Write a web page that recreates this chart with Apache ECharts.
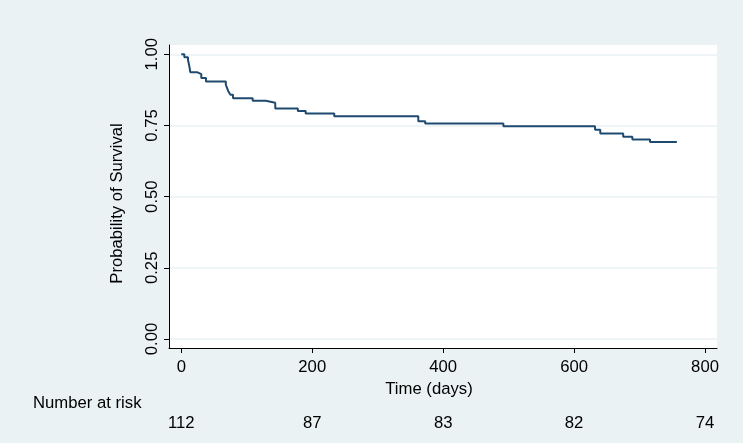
<!DOCTYPE html>
<html>
<head>
<meta charset="utf-8">
<script src="https://cdn.jsdelivr.net/npm/echarts@6/dist/echarts.min.js"></script>
<style>
html,body{margin:0;padding:0;background:#fff;}
#c{width:747px;height:446px;}
</style>
</head>
<body>
<div id="c"></div>
<script>
// Kaplan-Meier estimate (time in days, survival probability)
var times = [0, 4.6, 10.2, 12.5, 13.7, 24, 30.5, 37.7, 68, 70, 72, 75, 79, 109, 129, 143.5, 178, 190, 233.6, 362, 372.5, 492, 632, 640, 675, 689, 716, 757];
var surv  = [1, 0.990, 0.981, 0.955, 0.937, 0.930, 0.917, 0.904, 0.893, 0.881, 0.869, 0.858, 0.846, 0.837, 0.830, 0.810, 0.801, 0.792, 0.782, 0.765, 0.757, 0.747, 0.735, 0.722, 0.710, 0.701, 0.692, 0.692];
var xTicks = [0, 200, 400, 600, 800];
var yTicks = [0, 0.25, 0.5, 0.75, 1];
var atRiskTimes = [0, 200, 400, 600, 800];
var atRisk = [112, 87, 83, 82, 74];

var FONT = "'Liberation Sans', Arial, Helvetica, sans-serif";
var FS = 16.7;
var data = times.map(function (t, i) { return [t, surv[i]]; });

var chart = echarts.init(document.getElementById('c'));
chart.setOption({
  backgroundColor: '#ffffff',
  animation: false,
  textStyle: { fontFamily: FONT },
  graphic: [
    { type: 'rect', z: -100, silent: true, shape: { x: 0, y: 0, width: 743, height: 443 }, style: { fill: '#eaf2f3' } },
    { type: 'text', left: 33, top: 395, style: { text: 'Number at risk', font: FS + 'px ' + FONT, fill: '#000' } }
  ],
  grid: { left: 169, top: 45, width: 548, height: 303, show: true, backgroundColor: '#ffffff', borderWidth: 0 },
  xAxis: [{
    type: 'value', min: -18.8, max: 818.3,
    name: 'Time (days)', nameLocation: 'middle', nameGap: 29,
    nameTextStyle: { fontSize: FS, color: '#000', fontFamily: FONT, padding: [0, 28, 0, 0] },
    axisLine: { show: true, onZero: false, lineStyle: { color: '#000', width: 1 } },
    axisTick: { show: true, length: 5, customValues: xTicks, lineStyle: { color: '#000' } },
    axisLabel: { customValues: xTicks, fontSize: FS, color: '#000', margin: 11, fontFamily: FONT },
    splitLine: { show: false }
  }, {
    type: 'value', min: -18.8, max: 818.3, position: 'bottom', offset: 67,
    axisLine: { show: false, onZero: false }, axisTick: { show: false }, splitLine: { show: false },
    axisLabel: {
      customValues: atRiskTimes, fontSize: FS, color: '#000', margin: 0, fontFamily: FONT,
      formatter: function (v) { var i = atRiskTimes.indexOf(v); return i >= 0 ? String(atRisk[i]) : ''; }
    }
  }],
  yAxis: {
    type: 'value', min: -0.0316, max: 1.0326,
    name: 'Probability of Survival', nameLocation: 'middle', nameGap: 43, nameRotate: 90,
    nameTextStyle: { fontSize: FS, color: '#000', fontFamily: FONT, padding: [0, 14, 0, 0] },
    axisLine: { show: true, onZero: false, lineStyle: { color: '#000', width: 1 } },
    axisTick: { show: true, length: 5, customValues: yTicks, lineStyle: { color: '#000' } },
    axisLabel: {
      customValues: yTicks, rotate: 90, fontSize: FS, color: '#000', margin: 8, fontFamily: FONT,
      formatter: function (v) { return v.toFixed(2); }
    },
    splitLine: { show: true, lineStyle: { color: '#eaf2f3', width: 1.5 } }
  },
  series: [{
    type: 'line', step: 'end', data: data, showSymbol: false, symbol: 'none',
    lineStyle: { color: '#1f4a70', width: 2 }, z: 5
  }]
});
</script>
</body>
</html>
